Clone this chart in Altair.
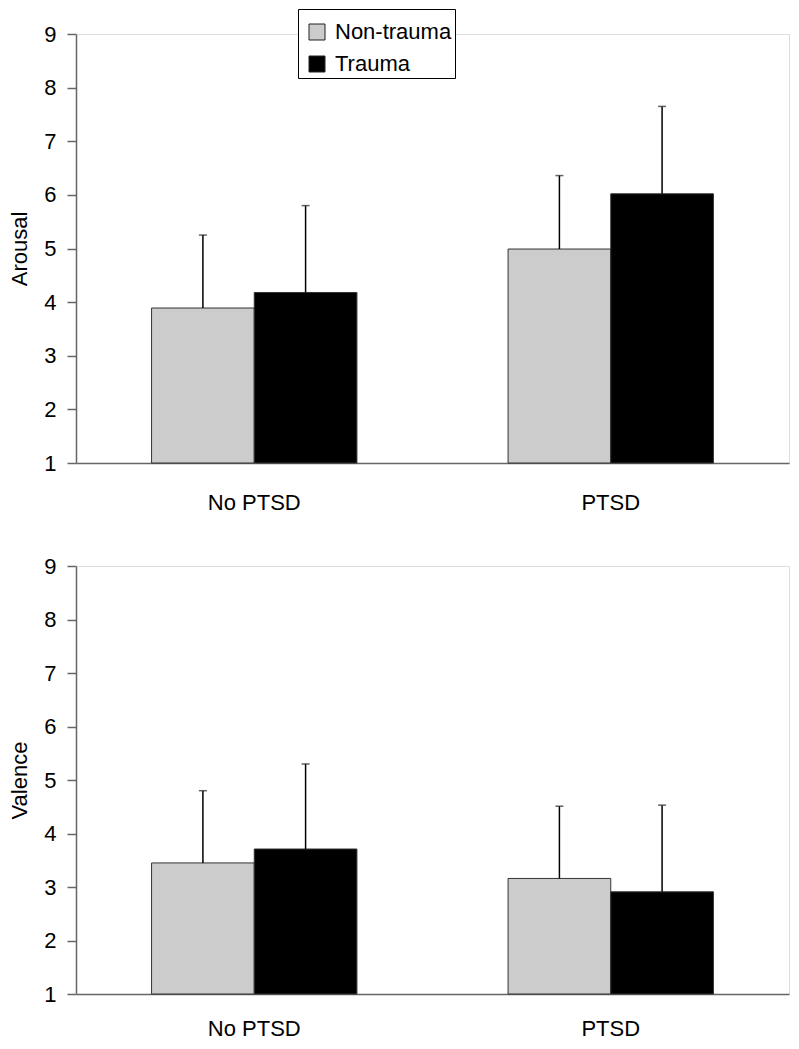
import altair as alt
import pandas as pd

groups = ["No PTSD", "PTSD"]
conditions = ["Non-trauma", "Trauma"]

# order: (No PTSD, Non-trauma), (No PTSD, Trauma), (PTSD, Non-trauma), (PTSD, Trauma)
arousal_mean = [3.89, 4.18, 4.99, 6.02]
arousal_sd = [1.36, 1.62, 1.37, 1.63]
valence_mean = [3.45, 3.71, 3.16, 2.91]
valence_sd = [1.35, 1.59, 1.35, 1.62]
y_ticks = [1, 2, 3, 4, 5, 6, 7, 8, 9]

FONT = "Liberation Sans"
AX = "#666666"


def make_df(means, sds):
    rows = []
    i = 0
    for g in groups:
        for c in conditions:
            rows.append({"group": g, "condition": c, "mean": means[i],
                         "upper": means[i] + sds[i]})
            i += 1
    return pd.DataFrame(rows)


def panel(means, sds, title, legend, h, xpad):
    df = make_df(means, sds)
    x = alt.X("group:N", sort=groups,
              scale=alt.Scale(paddingInner=0.424, paddingOuter=0.212),
              axis=alt.Axis(title=None, labelAngle=0, ticks=False,
                            domainColor=AX, domainWidth=1.5,
                            labelFontSize=22, labelPadding=xpad,
                            labelColor="black", labelFont=FONT))
    xo = alt.XOffset("condition:N", sort=conditions,
                     scale=alt.Scale(paddingInner=0, paddingOuter=0))
    yscale = alt.Scale(domain=[1, 9], nice=False, zero=False)
    yaxis = alt.Axis(values=y_ticks, grid=False, tickSize=9, tickColor=AX,
                     tickWidth=1.5, domainColor=AX, domainWidth=1.5,
                     labelFontSize=22, labelPadding=11, labelColor="black",
                     labelFont=FONT, titleFontSize=22, titleFont=FONT,
                     titleFontWeight="normal", titleColor="black",
                     titlePadding=12)
    base = alt.Chart(df)
    bars = base.mark_bar(stroke="#333333", strokeWidth=1).encode(
        x=x, xOffset=xo,
        y=alt.Y("mean:Q", scale=yscale, axis=yaxis, title=title),
        y2=alt.datum(1),
        color=alt.Color("condition:N",
                        scale=alt.Scale(domain=conditions,
                                        range=["#cccccc", "#000000"]),
                        legend=legend),
    )
    rules = base.mark_rule(color="black", strokeWidth=1.5).encode(
        x=x, xOffset=xo,
        y=alt.Y("mean:Q", scale=yscale),
        y2="upper:Q",
    )
    caps = base.mark_tick(color="#222222", size=8, thickness=1.5).encode(
        x=x, xOffset=xo,
        y=alt.Y("upper:Q", scale=yscale),
    )
    return alt.layer(bars, rules, caps).properties(width=713, height=h)


legend = alt.Legend(
    title=" ", titleFontSize=5, titlePadding=4,
    orient="none", legendX=222, legendY=-25,
    strokeColor="black", fillColor="white", padding=3,
    symbolType="square", symbolSize=256, symbolStrokeColor="#222222",
    symbolStrokeWidth=1, symbolOffset=5, labelOffset=7,
    labelFontSize=22, labelFont=FONT, labelColor="black",
    rowPadding=10, labelExpr="datum.label + '\u00a0\u00a0'",
)

top = panel(arousal_mean, arousal_sd, "Arousal", legend, 429, 29)
bottom = panel(valence_mean, valence_sd, "Valence", None, 428, 24)

chart = alt.vconcat(top, bottom, spacing=40).resolve_scale(
    color="independent"
).properties(
    padding={"top": 0, "left": 0, "right": 0, "bottom": 0}
).configure_view(stroke=None).configure(font=FONT)

chart.save("out.html", embed_options={"renderer": "svg", "actions": False})
